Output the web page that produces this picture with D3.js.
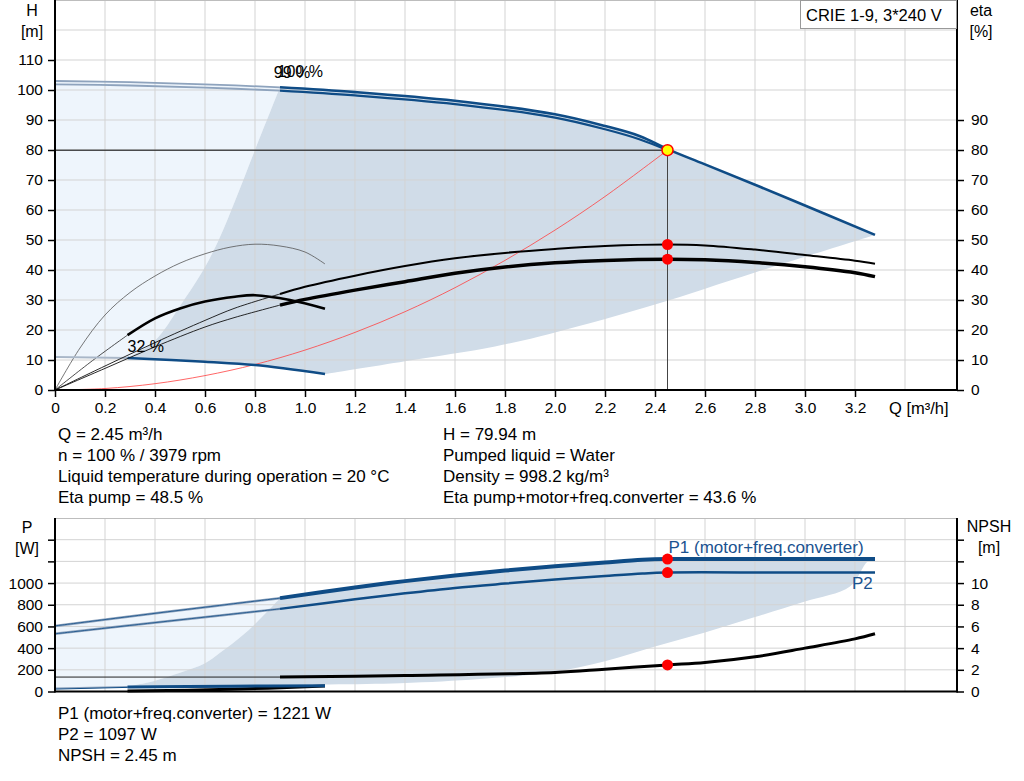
<!DOCTYPE html>
<html>
<head>
<meta charset="utf-8">
<script src="https://cdn.jsdelivr.net/npm/d3@7"></script>
<style>
  body { margin: 0; background: #fff; }
  svg { display: block; font-family: "Liberation Sans", Arial, sans-serif; }
  text { fill: #000; }
</style>
</head>
<body>
<svg id="chart" width="1024" height="781"></svg>
<script>
// DANE
let qTicks = [0, 0.2, 0.4, 0.6, 0.8, 1.0, 1.2, 1.4, 1.6, 1.8, 2.0, 2.2, 2.4, 2.6, 2.8, 3.0, 3.2];
let qGrid = [0.2, 0.4, 0.6, 0.8, 1.0, 1.2, 1.4, 1.6, 1.8, 2.0, 2.2, 2.4, 2.6, 2.8, 3.0, 3.2, 3.4];
let hTicks = [0, 10, 20, 30, 40, 50, 60, 70, 80, 90, 100, 110];
let hGrid = [10, 20, 30, 40, 50, 60, 70, 80, 90, 100, 110, 120];
let etaTicks = [0, 10, 20, 30, 40, 50, 60, 70, 80, 90];
let pTicks = [0, 200, 400, 600, 800, 1000, 1200, 1400];
let pLabels = [0, 200, 400, 600, 800, 1000];
let npshTicks = [0, 2, 4, 6, 8, 10, 12, 14];
let npshLabels = [0, 2, 4, 6, 8, 10];

// krzywe H [Q, H]
let h100 = [[0, 103], [0.3, 102.6], [0.6, 101.9], [0.9, 100.9], [1.2, 99.3], [1.6, 96.4], [2.0, 91.9], [2.2, 88.0], [2.34, 84.6], [2.45, 80.3], [2.6, 75.2], [2.94, 63.6], [3.28, 51.7]];
let h99 = [[0, 101.9], [0.3, 101.5], [0.6, 100.8], [0.9, 99.8], [1.2, 98.2], [1.6, 95.3], [2.0, 90.8], [2.2, 86.9], [2.34, 83.5], [2.45, 79.94]];
let hMin = [[0, 11], [0.29, 10.7], [0.6, 9.4], [0.8, 8.3], [1.08, 5.3]];
let system = [[0, 0], [0.2, 0.5], [0.4, 2.1], [0.6, 4.8], [0.8, 8.5], [1.0, 13.3], [1.2, 19.2], [1.4, 26.1], [1.6, 34.1], [1.8, 43.2], [2.0, 53.3], [2.2, 64.5], [2.45, 79.94]];

// krzywe sprawnosci [Q, eta]
let etaPump = [[0, 0], [0.2, 8], [0.4, 15.8], [0.6, 23.2], [0.72, 27.3], [0.9, 32.0], [1.0, 34.4], [1.2, 38.1], [1.4, 41.3], [1.6, 43.9], [1.8, 45.7], [2.0, 47.0], [2.2, 48.0], [2.45, 48.5], [2.6, 48.2], [2.8, 46.8], [3.0, 45.0], [3.2, 43.1], [3.28, 42.1]];
let etaTotal = [[0, 0], [0.2, 7.2], [0.4, 14.4], [0.6, 21.0], [0.72, 24.2], [0.9, 28.3], [1.0, 30.2], [1.2, 33.3], [1.4, 36.1], [1.6, 38.9], [1.8, 41.0], [2.0, 42.4], [2.2, 43.2], [2.45, 43.6], [2.6, 43.4], [2.8, 42.5], [3.0, 41.1], [3.2, 39.1], [3.28, 37.8]];
let etaPumpMin = [[0, 0], [0.1, 14], [0.2, 25], [0.3, 32.5], [0.4, 38], [0.5, 42.3], [0.6, 45.4], [0.7, 47.6], [0.8, 48.6], [0.9, 48.0], [1.0, 46.0], [1.08, 42]];
let etaTotalMin = [[0, 0], [0.15, 9.8], [0.29, 18.3], [0.4, 23.9], [0.5, 27.2], [0.6, 29.5], [0.72, 31.1], [0.8, 31.6], [0.94, 30.0], [1.08, 27.1]];

// granice zakresu pracy (gora)
let rangeLeftH = [[0.29, 10.7], [0.4, 16.5], [0.5, 28], [0.6, 41], [0.66, 51], [0.72, 63], [0.8, 80], [0.9, 100.9]];
let rangeLowerH = [[1.08, 5.3], [1.4, 9.6], [1.76, 14.5], [2.0, 19.2], [2.4, 28.5], [2.8, 39.2], [3.28, 51.7]];

// krzywe mocy [Q, P] i NPSH [Q, m]
let p1 = [[0, 605], [0.45, 735], [0.9, 861], [1.2, 960], [1.4, 1018], [1.6, 1070], [1.8, 1115], [2.0, 1155], [2.2, 1190], [2.35, 1214], [2.45, 1221], [2.9, 1221], [3.28, 1221]];
let p2 = [[0, 532], [0.45, 648], [0.9, 762], [1.2, 850], [1.4, 905], [1.6, 955], [1.8, 995], [2.0, 1032], [2.2, 1065], [2.35, 1088], [2.45, 1097], [2.9, 1097], [3.28, 1097]];
let p1Min = [[0, 30], [0.29, 44], [0.7, 51], [1.08, 56]];
let p2Min = [[0, 22], [0.29, 38], [0.7, 44], [1.08, 49]];
let npsh = [[0, 1.33], [0.9, 1.33], [1.4, 1.48], [2.0, 1.76], [2.2, 2.06], [2.45, 2.45], [2.6, 2.67], [2.8, 3.2], [3.0, 4.0], [3.2, 4.85], [3.28, 5.32]];
let npshMin = [[0.29, 0.05], [0.7, 0.2], [1.08, 0.5]];

let rangeLeftP = [[0.29, 46], [0.4, 100], [0.5, 172], [0.6, 260], [0.66, 357], [0.72, 460], [0.79, 600], [0.85, 740], [0.9, 861]];
let rangeLowerP = [[0.29, 46], [0.8, 60], [1.38, 77], [1.7, 115], [1.98, 175], [2.2, 280], [2.4, 415], [2.6, 545], [2.8, 686], [3.0, 830], [3.18, 968], [3.25, 1198], [3.28, 1221]];

// punkt pracy
let duty = {q: 2.45, h: 79.94, etaPump: 48.5, etaTotal: 43.6, p1: 1221, p2: 1097, npsh: 2.45};
let qSplit = 0.9;     // poczatek zalecanego zakresu
let qMinSplit = 0.29; // poczatek krzywej minimalnej

let infoLeft = ["Q = 2.45 m³/h", "n = 100 % / 3979 rpm", "Liquid temperature during operation = 20 °C", "Eta pump = 48.5 %"];
let infoRight = ["H = 79.94 m", "Pumped liquid = Water", "Density = 998.2 kg/m³", "Eta pump+motor+freq.converter = 43.6 %"];
let infoBottom = ["P1 (motor+freq.converter) = 1221 W", "P2 = 1097 W", "NPSH = 2.45 m"];

// KOLORY I CZCIONKI
let blue = "#0f4c86";
let blueLight = "#8ea3bd";
let fillDark = "#d0dce8";
let fillLight = "#eef5fc";
let gridCol = "#d3d3d3";
let fsTick = 15.5, fsTitle = 16, fsInfo = 17;

let svg = d3.select("#chart");
let xL = 55, xR = 957;

let x = d3.scaleLinear().domain([0, 3.6]).range([55, 955]);
let yH = d3.scaleLinear().domain([0, 130]).range([390, 0]);
let yP = d3.scaleLinear().domain([0, 1600]).range([691.5, 518]);
let yN = d3.scaleLinear().domain([0, 16]).range([691.5, 518]);

function lineGen(ys){
    return d3.line().x(d => x(d[0])).y(d => ys(d[1])).curve(d3.curveCatmullRom.alpha(0.5));
}
let lineH = lineGen(yH), lineP = lineGen(yP), lineN = lineGen(yN);

// laczenie kilku odcinkow w jeden wielokat
function polygon(gen, parts){
    return parts.map((p, i) => { var s = gen(p); return i ? "L" + s.slice(1) : s; }).join("") + "Z";
}
let before = (arr, q) => arr.filter(d => d[0] <= q + 1e-9);
let after = (arr, q) => arr.filter(d => d[0] >= q - 1e-9);
let rev = arr => arr.slice().reverse();

function drawLine(gen, data, color, width){
    svg.append("path").attr("d", gen(data)).attr("fill", "none")
        .attr("stroke", color).attr("stroke-width", width)
        .attr("stroke-linejoin", "round").attr("stroke-linecap", "butt");
}
function label(tx, ty, txt, size, anchor){
    return svg.append("text").attr("x", tx).attr("y", ty).attr("font-size", size)
        .attr("text-anchor", anchor || "start").text(txt);
}

// ===== GORNY WYKRES =====
// obszary
svg.append("path")
    .attr("d", polygon(lineH, [before(h100, qSplit), rev(rangeLeftH), rev(before(hMin, qMinSplit))]))
    .attr("fill", fillLight);
svg.append("path")
    .attr("d", polygon(lineH, [rangeLeftH, after(h100, qSplit), rev(rangeLowerH), rev(after(hMin, qMinSplit))]))
    .attr("fill", fillDark);

// siatka
let gTop = svg.append("g");
gTop.selectAll(".vg").data(qGrid).enter().append("line")
    .attr("x1", d => x(d)).attr("x2", d => x(d)).attr("y1", yH(130)).attr("y2", yH(0))
    .attr("stroke", gridCol);
gTop.selectAll(".hg").data(hGrid).enter().append("line")
    .attr("x1", xL).attr("x2", xR).attr("y1", d => yH(d)).attr("y2", d => yH(d))
    .attr("stroke", gridCol);
gTop.append("line").attr("x1", xL).attr("x2", xR).attr("y1", yH(130) + 0.5).attr("y2", yH(130) + 0.5)
    .attr("stroke", "#bdbdbd");

// linie punktu pracy
svg.append("line").attr("x1", x(0)).attr("x2", x(duty.q)).attr("y1", yH(duty.h)).attr("y2", yH(duty.h))
    .attr("stroke", "#000").attr("stroke-width", 1);
svg.append("line").attr("x1", x(duty.q)).attr("x2", x(duty.q)).attr("y1", yH(duty.h)).attr("y2", yH(0))
    .attr("stroke", "#444").attr("stroke-width", 1);

// krzywa instalacji
drawLine(lineH, system, "#ff4040", 0.8);

// krzywe min. predkosci
drawLine(lineH, etaPumpMin, "#555", 0.8);
drawLine(lineH, before(etaTotalMin, qMinSplit), "#222", 0.8);
drawLine(lineH, after(etaTotalMin, qMinSplit), "#000", 2.6);
drawLine(lineH, before(hMin, qMinSplit), "#a9b7c8", 2);
drawLine(lineH, after(hMin, qMinSplit), blue, 2.5);

// krzywe sprawnosci 100 %
drawLine(lineH, before(etaPump, qSplit), "#111", 0.9);
drawLine(lineH, before(etaTotal, qSplit), "#111", 0.9);
drawLine(lineH, after(etaPump, qSplit), "#000", 2);
drawLine(lineH, after(etaTotal, qSplit), "#000", 3.5);

// krzywe H
drawLine(lineH, before(h100, qSplit), blueLight, 1.8);
drawLine(lineH, before(h99, qSplit), blueLight, 1.8);
drawLine(lineH, after(h99, qSplit), blue, 2.2);
drawLine(lineH, after(h100, qSplit), blue, 2.6);

// etykiety krzywych (w oryginale nachodza na siebie)
label(x(0.89), yH(104.3), "100 %", fsTitle);
label(x(0.875), yH(104), "99 %", fsTitle);
label(x(0.29), yH(12.8), "32 %", fsTitle);

// punkty
svg.append("circle").attr("cx", x(duty.q)).attr("cy", yH(duty.etaPump)).attr("r", 5.5).attr("fill", "#ff0000");
svg.append("circle").attr("cx", x(duty.q)).attr("cy", yH(duty.etaTotal)).attr("r", 5.5).attr("fill", "#ff0000");
svg.append("circle").attr("cx", x(duty.q)).attr("cy", yH(duty.h)).attr("r", 5.5)
    .attr("fill", "#ffff00").attr("stroke", "#ff0000").attr("stroke-width", 1.5);

// osie gornego wykresu
function styleAxis(g){
    g.select(".domain").remove();
    g.selectAll("line").attr("stroke", "#000").attr("stroke-width", 1.5);
    g.selectAll("text").attr("font-size", fsTick).attr("font-family", "Liberation Sans, Arial, sans-serif").attr("fill", "#000");
}
let axL = d3.axisLeft(yH).tickValues(hTicks).tickSize(7).tickPadding(5).tickFormat(d3.format("d"));
styleAxis(svg.append("g").attr("transform", "translate(" + xL + ",0)").call(axL));
let axR = d3.axisRight(yH).tickValues(etaTicks).tickSize(7).tickPadding(7).tickFormat(d3.format("d"));
styleAxis(svg.append("g").attr("transform", "translate(" + xR + ",0)").call(axR));
let axB = d3.axisBottom(x).tickValues(qTicks).tickSize(7).tickPadding(5).tickFormat(d => d === 0 ? "0" : d3.format(".1f")(d));
styleAxis(svg.append("g").attr("transform", "translate(0," + yH(0) + ")").call(axB));
svg.append("line").attr("x1", xL).attr("x2", xL).attr("y1", 0).attr("y2", yH(0) + 1).attr("stroke", "#000").attr("stroke-width", 2);
svg.append("line").attr("x1", xR).attr("x2", xR).attr("y1", 0).attr("y2", yH(0) + 1).attr("stroke", "#000").attr("stroke-width", 2);
svg.append("line").attr("x1", xL).attr("x2", xR).attr("y1", yH(0)).attr("y2", yH(0)).attr("stroke", "#000").attr("stroke-width", 2);

label(32, 16, "H", fsTitle, "middle");
label(32, 37, "[m]", fsTitle, "middle");
label(981, 16, "eta", fsTitle, "middle");
label(981, 37, "[%]", fsTitle, "middle");
label(889, 413.5, "Q [m³/h]", 16.5);

// legenda
svg.append("rect").attr("x", 800.5).attr("y", 0.5).attr("width", xR - 801).attr("height", 28)
    .attr("fill", "#fff").attr("stroke", "#999");
label(806, 20.5, "CRIE 1-9, 3*240 V", 16.5);

// teksty informacyjne
svg.selectAll(".infoL").data(infoLeft).enter().append("text")
    .attr("x", 58).attr("y", (d, i) => 440 + i * 21).attr("font-size", fsInfo).text(d => d);
svg.selectAll(".infoR").data(infoRight).enter().append("text")
    .attr("x", 443).attr("y", (d, i) => 440 + i * 21).attr("font-size", fsInfo).text(d => d);

// ===== DOLNY WYKRES =====
svg.append("path")
    .attr("d", polygon(lineP, [before(p1, qSplit), rev(rangeLeftP), rev(before(p1Min, qMinSplit))]))
    .attr("fill", fillLight);
svg.append("path")
    .attr("d", polygon(lineP, [rangeLeftP, after(p1, qSplit), rev(rangeLowerP)]))
    .attr("fill", fillDark);

let gBot = svg.append("g");
gBot.selectAll(".vg").data(qGrid).enter().append("line")
    .attr("x1", d => x(d)).attr("x2", d => x(d)).attr("y1", yP(1600)).attr("y2", yP(0))
    .attr("stroke", gridCol);
gBot.selectAll(".hg").data(pTicks.slice(1)).enter().append("line")
    .attr("x1", xL).attr("x2", xR).attr("y1", d => yP(d)).attr("y2", d => yP(d))
    .attr("stroke", gridCol);
gBot.append("line").attr("x1", xL).attr("x2", xR).attr("y1", yP(1600) + 0.5).attr("y2", yP(1600) + 0.5)
    .attr("stroke", "#bdbdbd");

// NPSH
drawLine(lineN, before(npsh, qSplit), "#222", 1);
drawLine(lineN, after(npsh, qSplit), "#000", 3);
drawLine(lineN, npshMin, "#000", 3);

// moc przy min. predkosci
drawLine(lineP, before(p1Min, qMinSplit), blueLight, 1.5);
drawLine(lineP, before(p2Min, qMinSplit), blue, 1);
drawLine(lineP, after(p2Min, qMinSplit), blue, 2);
drawLine(lineP, after(p1Min, qMinSplit), blue, 2.5);

// P1, P2
drawLine(lineP, before(p1, qSplit), blueLight, 2.5);
drawLine(lineP, before(p1, qSplit), blue, 0.8);
drawLine(lineP, before(p2, qSplit), blueLight, 2.5);
drawLine(lineP, before(p2, qSplit), blue, 0.8);
drawLine(lineP, after(p2, qSplit), blue, 2.5);
drawLine(lineP, after(p1, qSplit), blue, 4);

label(x(duty.q) + 1, 553, "P1 (motor+freq.converter)", fsInfo).style("fill", "#1a5290");
label(852, 589, "P2", fsInfo).style("fill", "#1a5290");

svg.append("circle").attr("cx", x(duty.q)).attr("cy", yP(duty.p1)).attr("r", 5.5).attr("fill", "#ff0000");
svg.append("circle").attr("cx", x(duty.q)).attr("cy", yP(duty.p2)).attr("r", 5.5).attr("fill", "#ff0000");
svg.append("circle").attr("cx", x(duty.q)).attr("cy", yN(duty.npsh)).attr("r", 5.5).attr("fill", "#ff0000");

let axPL = d3.axisLeft(yP).tickValues(pTicks).tickSize(7).tickPadding(5)
    .tickFormat(d => pLabels.includes(d) ? d : "");
styleAxis(svg.append("g").attr("transform", "translate(" + xL + ",0)").call(axPL));
let axNR = d3.axisRight(yN).tickValues(npshTicks).tickSize(7).tickPadding(7)
    .tickFormat(d => npshLabels.includes(d) ? d : "");
styleAxis(svg.append("g").attr("transform", "translate(" + xR + ",0)").call(axNR));
svg.append("line").attr("x1", xL).attr("x2", xL).attr("y1", yP(1600)).attr("y2", yP(0) + 1).attr("stroke", "#000").attr("stroke-width", 2);
svg.append("line").attr("x1", xR).attr("x2", xR).attr("y1", yP(1600)).attr("y2", yP(0) + 1).attr("stroke", "#000").attr("stroke-width", 2);
svg.append("line").attr("x1", xL).attr("x2", xR).attr("y1", yP(0)).attr("y2", yP(0)).attr("stroke", "#000").attr("stroke-width", 2);

label(27, 533, "P", fsTitle, "middle");
label(27, 554, "[W]", fsTitle, "middle");
label(989, 532, "NPSH", fsTitle, "middle");
label(989, 553, "[m]", fsTitle, "middle");

svg.selectAll(".infoB").data(infoBottom).enter().append("text")
    .attr("x", 58).attr("y", (d, i) => 719 + i * 21).attr("font-size", fsInfo).text(d => d);
</script>
</body>
</html>
